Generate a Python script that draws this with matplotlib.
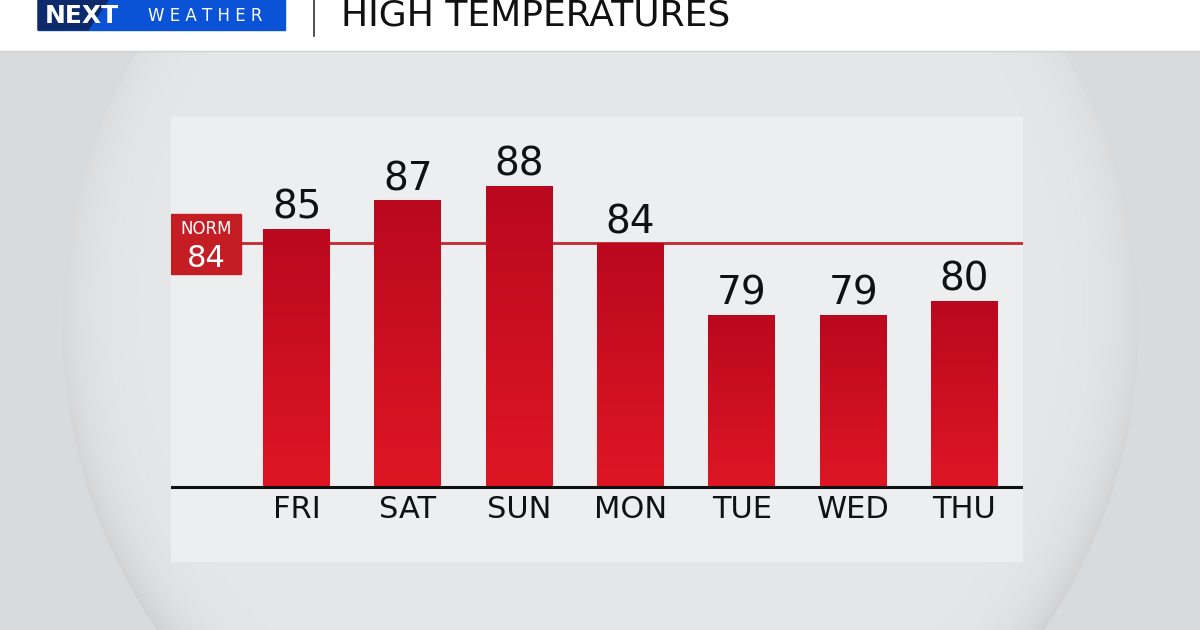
import numpy as np
import matplotlib.pyplot as plt
from matplotlib.patches import Rectangle, Polygon

plt.rcParams['font.family'] = ['DejaVu Sans']

# data
days = ['FRI', 'SAT', 'SUN', 'MON', 'TUE', 'WED', 'THU']
highs = [85, 87, 88, 84, 79, 79, 80]
norm = 84
title = 'HIGH TEMPERATURES'

W, H = 1200, 630
fig = plt.figure(figsize=(12, 6.3), dpi=100)

# background: gray with a big soft disc
bg = fig.add_axes([0, 0, 1, 1])
yy, xx = np.mgrid[0:H, 0:W]
cx, cy, r = 600, 325, 538
d = np.sqrt((xx - cx) ** 2 + (yy - cy) ** 2)
outside = np.array([216, 219, 221]) / 255
inside = np.array([229, 231, 233]) / 255
img = np.where((d < r)[..., None], inside, outside)
rim = np.clip(np.exp(-(r - d) / 28.0), 0, 1) * (d < r)
shade = rim * (0.06 + 0.05 * (yy - cy) / r)
img = img - shade[..., None]
img = np.clip(img, 0, 1)
bg.imshow(img, extent=(0, W, H, 0), aspect='auto', zorder=0)
bg.set_xlim(0, W)
bg.set_ylim(H, 0)
bg.axis('off')

# header band
bg.add_patch(Rectangle((0, 0), W, 50, color='white', zorder=1))
bg.plot([0, W], [50.5, 50.5], color='#d0d2d4', lw=1, zorder=1)
bg.add_patch(Rectangle((38, 0), 247, 30, color='#0a52d6', zorder=2))
bg.add_patch(Polygon([(38, 0), (108, 0), (88, 30), (38, 30)], color='#0c2a6c', zorder=2))
bg.text(45, 16, 'NEXT', color='white', fontsize=18, fontweight='bold',
        va='center', ha='left', zorder=3)
bg.text(148, 16, 'W E A T H E R', color='white', fontsize=12,
        va='center', ha='left', zorder=3)
bg.plot([314, 314], [0, 36], color='#333333', lw=1.2, zorder=2)
bg.text(341, 15.5, title, color='#111111', fontsize=26, va='center', ha='left', zorder=3)

# chart panel
left, right, top, bottom = 171, 1023, 117, 562
ax = fig.add_axes([left / W, 1 - bottom / H, (right - left) / W, (bottom - top) / H])
ax.set_facecolor('#eceef0')
base = 67
ax.set_ylim(61.77, 92.8)
ax.set_xlim(-1.128, 6.526)
x = np.arange(len(days))
bw = 0.6

grad = np.linspace(0, 1, 256)[:, None]
top_c = np.array([186, 8, 30]) / 255
bot_c = np.array([222, 22, 36]) / 255
gimg = (top_c[None, None, :] * (1 - grad[..., None]) + bot_c[None, None, :] * grad[..., None])

bars = ax.bar(x, np.array(highs) - base, bottom=base, width=bw, color='#cc0f26', zorder=2)
for b, v in zip(bars, highs):
    im = ax.imshow(gimg, extent=(b.get_x(), b.get_x() + bw, base, v),
                   aspect='auto', zorder=2.5)
    im.set_clip_path(b)
    ax.text(b.get_x() + bw / 2, v + 0.15, str(v), ha='center', va='bottom',
            fontsize=28, color='#111111', zorder=4)

ax.axhline(norm, color='#c8262c', lw=2, zorder=1.5)
ax.axhline(base, color='#111111', lw=2.2, zorder=3)

# norm box
ax.add_patch(Rectangle((0, 81.86), 70 / 852, 86.05 - 81.86,
                       transform=ax.get_yaxis_transform(), color='#c41e24', zorder=3))
ax.text(35 / 852, 85.0, 'NORM', transform=ax.get_yaxis_transform(), ha='center',
        va='center', fontsize=12, color='white', zorder=4)
ax.text(35 / 852, 82.9, str(norm), transform=ax.get_yaxis_transform(), ha='center',
        va='center', fontsize=22, color='white', zorder=4)

for xi, dname in zip(x, days):
    ax.text(xi, base - 1.55, dname, ha='center', va='center', fontsize=22,
            color='#111111', zorder=4)

ax.set_xticks([])
ax.set_yticks([])
for s in ax.spines.values():
    s.set_visible(False)

fig.savefig('out.png', dpi=100)
